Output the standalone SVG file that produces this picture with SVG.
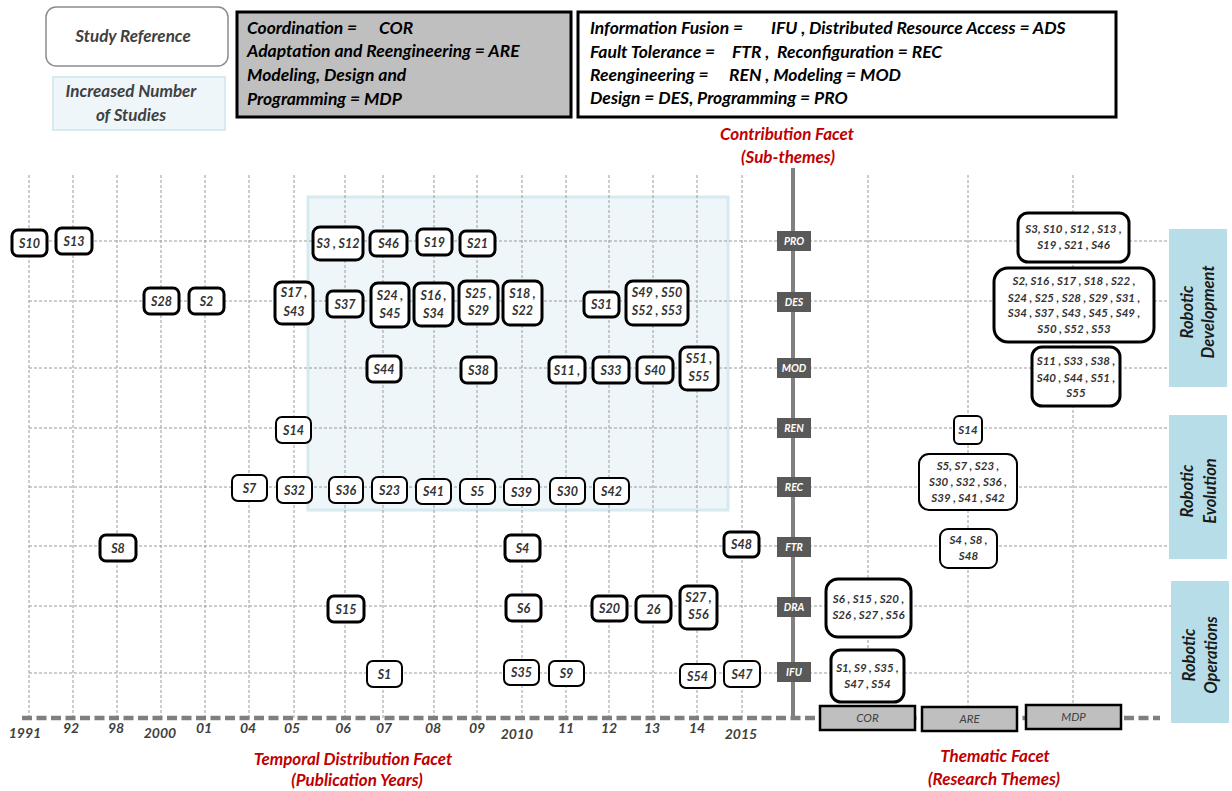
<svg xmlns="http://www.w3.org/2000/svg" width="1232" height="791" viewBox="0 0 1232 791">
<style>
text{font-family:Lato,"Open Sans","Liberation Sans",sans-serif;font-weight:bold;font-style:italic}
.grid{stroke:#9a9a9a;stroke-width:1;stroke-dasharray:3 2;fill:none}
.n rect{fill:#fff;stroke:#000;stroke-width:3}
.t rect{fill:#fff;stroke:#000;stroke-width:2}
.n text,.t text{font-size:12.5px;fill:#333;text-anchor:middle}
.agg text{font-size:11.5px}
.sub rect{fill:#595959}
.sub text{font-size:10.5px;fill:#fff;text-anchor:middle}
.yr{font-size:14px;fill:#404040;text-anchor:middle}
.red{font-size:17px;fill:#c00000;text-anchor:middle}
.leg{font-size:17.5px;fill:#000}
.theme rect{fill:#bfbfbf;stroke:#000;stroke-width:2.5}
.theme text{font-size:11.5px;fill:#404040;text-anchor:middle;font-weight:normal}
.panel rect{fill:#b7dee8}
.panel text{font-size:16.5px;fill:#1a1a1a;text-anchor:middle}
</style>

<!-- legends -->
<g id="legend-study">
<rect x="46" y="7" width="182" height="59" rx="10" fill="#fff" stroke="#8c8c8c" stroke-width="1.5"/>
<text x="133" y="42" font-size="17" fill="#404040" text-anchor="middle">Study Reference</text>
</g>
<g id="legend-increased">
<rect x="53" y="77" width="172" height="53" fill="#eef6fa" stroke="#d6eaf0" stroke-width="2"/>
<text x="131" y="97" font-size="17" fill="#404040" text-anchor="middle">Increased Number</text>
<text x="131" y="121" font-size="17" fill="#404040" text-anchor="middle">of Studies</text>
</g>
<g id="legend-themes">
<rect x="237" y="12" width="334" height="105" fill="#bfbfbf" stroke="#000" stroke-width="3"/>
<text class="leg" x="247" y="34">Coordination = <tspan x="379">COR</tspan></text>
<text class="leg" x="247" y="57">Adaptation and Reengineering = ARE</text>
<text class="leg" x="247" y="81">Modeling, Design and</text>
<text class="leg" x="247" y="105">Programming = MDP</text>
</g>
<g id="legend-subthemes">
<rect x="578" y="12" width="538" height="105" fill="#fff" stroke="#000" stroke-width="3"/>
<text class="leg" x="590" y="34">Information Fusion = <tspan x="771">IFU ,</tspan><tspan x="809">Distributed Resource Access = ADS</tspan></text>
<text class="leg" x="590" y="58">Fault Tolerance = <tspan x="732">FTR ,</tspan><tspan x="777">Reconfiguration = REC</tspan></text>
<text class="leg" x="590" y="81">Reengineering = <tspan x="729">REN , Modeling = MOD</tspan></text>
<text class="leg" x="590" y="104">Design = DES, Programming = PRO</text>
</g>

<!-- highlighted region -->
<rect id="increased-region" x="308" y="197" width="420" height="313" fill="#eef6fa" stroke="#d6eaf0" stroke-width="3"/>

<!-- connectors / grid -->
<g id="connectors">
<g class="grid">
<path d="M29 175V718M73 175V718M117 175V718M161 175V718M205 175V718M249 175V718M294 175V718M345 175V718M383 175V718M434 175V718M477 175V718M522 175V718M566 175V718M609 175V718M653 175V718M697 175V718M742 175V718"/>
<path d="M868 175V706M968 175V706M1073 175V706"/>
<path d="M29 241H1168M29 301H1168M29 368H1168M29 428H1168M29 487H1168M29 546H1168M29 606H1171M29 673H1171"/>
</g>
<path d="M793 168V718" stroke="#808080" stroke-width="4" fill="none"/>
<path d="M22 718H1160" stroke="#7f7f7f" stroke-width="4.5" stroke-dasharray="10 4.5" fill="none"/>
</g>

<!-- sub-theme labels -->
<g id="sub-PRO" class="sub"><rect x="777" y="231" width="34" height="20"/><text x="794" y="245">PRO</text></g>
<g id="sub-DES" class="sub"><rect x="777" y="292" width="34" height="20"/><text x="794" y="306">DES</text></g>
<g id="sub-MOD" class="sub"><rect x="777" y="358" width="34" height="20"/><text x="794" y="372">MOD</text></g>
<g id="sub-REN" class="sub"><rect x="777" y="418" width="34" height="20"/><text x="794" y="432">REN</text></g>
<g id="sub-REC" class="sub"><rect x="777" y="477" width="34" height="20"/><text x="794" y="491">REC</text></g>
<g id="sub-FTR" class="sub"><rect x="777" y="537" width="34" height="20"/><text x="794" y="551">FTR</text></g>
<g id="sub-DRA" class="sub"><rect x="777" y="597" width="34" height="20"/><text x="794" y="611">DRA</text></g>
<g id="sub-IFU" class="sub"><rect x="777" y="662" width="34" height="20"/><text x="794" y="676">IFU</text></g>

<!-- PRO row -->
<g id="n-S10" class="n"><rect x="12" y="230" width="35" height="26" rx="6"/><text x="29.5" y="247.5">S10</text></g>
<g id="n-S13" class="n"><rect x="56" y="228" width="36" height="26" rx="6"/><text x="74" y="245.5">S13</text></g>
<g id="n-S3-S12" class="n"><rect x="313" y="227" width="50" height="33" rx="7"/><text x="338" y="248">S3 , S12</text></g>
<g id="n-S46" class="n"><rect x="370" y="231" width="37" height="25" rx="6"/><text x="388.5" y="248">S46</text></g>
<g id="n-S19" class="n"><rect x="417" y="229" width="35" height="26" rx="6"/><text x="434.5" y="246.5">S19</text></g>
<g id="n-S21" class="n"><rect x="460" y="231" width="35" height="25" rx="6"/><text x="477.5" y="248">S21</text></g>

<!-- DES row -->
<g id="n-S28" class="n"><rect x="144" y="288" width="35" height="26" rx="6"/><text x="161.5" y="305.5">S28</text></g>
<g id="n-S2" class="n"><rect x="189" y="288" width="35" height="26" rx="6"/><text x="206.5" y="305.5">S2</text></g>
<g id="n-S17-S43" class="n"><rect x="275" y="282" width="38" height="42" rx="7"/><text x="294" y="297">S17 ,</text><text x="294" y="316">S43</text></g>
<g id="n-S37" class="n"><rect x="327" y="291" width="36" height="26" rx="6"/><text x="345" y="308.5">S37</text></g>
<g id="n-S24-S45" class="n"><rect x="371" y="283" width="38" height="44" rx="7"/><text x="390" y="300">S24 ,</text><text x="390" y="318">S45</text></g>
<g id="n-S16-S34" class="n"><rect x="414" y="283" width="39" height="43" rx="7"/><text x="433.5" y="300">S16 ,</text><text x="433.5" y="318">S34</text></g>
<g id="n-S25-S29" class="n"><rect x="459" y="281" width="39" height="43" rx="7"/><text x="478.5" y="298">S25 ,</text><text x="478.5" y="315">S29</text></g>
<g id="n-S18-S22" class="n"><rect x="503" y="281" width="39" height="44" rx="7"/><text x="522.5" y="298">S18 ,</text><text x="522.5" y="315">S22</text></g>
<g id="n-S31" class="n"><rect x="584" y="292" width="35" height="25" rx="6"/><text x="601.5" y="309">S31</text></g>
<g id="n-S49-S53" class="n"><rect x="626" y="281" width="62" height="44" rx="7"/><text x="657" y="297">S49 , S50</text><text x="657" y="315">S52 , S53</text></g>

<!-- MOD row -->
<g id="n-S44" class="n"><rect x="367" y="356" width="34" height="26" rx="6"/><text x="384" y="373.5">S44</text></g>
<g id="n-S38" class="n"><rect x="461" y="357" width="35" height="26" rx="6"/><text x="478.5" y="374.5">S38</text></g>
<g id="n-S11" class="n"><rect x="549" y="357" width="36" height="26" rx="6"/><text x="567" y="374.5">S11 ,</text></g>
<g id="n-S33" class="n"><rect x="593" y="357" width="36" height="26" rx="6"/><text x="611" y="374.5">S33</text></g>
<g id="n-S40" class="n"><rect x="637" y="357" width="36" height="26" rx="6"/><text x="655" y="374.5">S40</text></g>
<g id="n-S51-S55" class="n"><rect x="680" y="347" width="38" height="43" rx="7"/><text x="699" y="363">S51 ,</text><text x="699" y="381">S55</text></g>

<!-- REN row -->
<g id="n-S14" class="t"><rect x="276" y="417" width="35" height="26" rx="6"/><text x="293.5" y="434.5">S14</text></g>

<!-- REC row -->
<g id="n-S7" class="t"><rect x="232" y="475" width="35" height="26" rx="6"/><text x="249.5" y="492.5">S7</text></g>
<g id="n-S32" class="t"><rect x="277" y="477" width="35" height="26" rx="6"/><text x="294.5" y="494.5">S32</text></g>
<g id="n-S36" class="t"><rect x="329" y="477" width="34" height="26" rx="6"/><text x="346" y="494.5">S36</text></g>
<g id="n-S23" class="t"><rect x="372" y="477" width="35" height="26" rx="6"/><text x="389.5" y="494.5">S23</text></g>
<g id="n-S41" class="t"><rect x="416" y="479" width="35" height="25" rx="6"/><text x="433.5" y="496">S41</text></g>
<g id="n-S5" class="t"><rect x="460" y="479" width="35" height="25" rx="6"/><text x="477.5" y="496">S5</text></g>
<g id="n-S39" class="t"><rect x="504" y="479" width="35" height="26" rx="6"/><text x="521.5" y="496.5">S39</text></g>
<g id="n-S30" class="t"><rect x="550" y="478" width="35" height="26" rx="6"/><text x="567.5" y="495.5">S30</text></g>
<g id="n-S42" class="t"><rect x="594" y="478" width="35" height="26" rx="6"/><text x="611.5" y="495.5">S42</text></g>

<!-- FTR row -->
<g id="n-S8" class="n"><rect x="100" y="535" width="36" height="26" rx="6"/><text x="118" y="552.5">S8</text></g>
<g id="n-S4" class="n"><rect x="505" y="535" width="35" height="26" rx="6"/><text x="522.5" y="552.5">S4</text></g>
<g id="n-S48" class="n"><rect x="724" y="532" width="35" height="25" rx="6"/><text x="741.5" y="549">S48</text></g>

<!-- DRA row -->
<g id="n-S15" class="n"><rect x="328" y="596" width="36" height="26" rx="6"/><text x="346" y="613.5">S15</text></g>
<g id="n-S6" class="n"><rect x="506" y="595" width="35" height="26" rx="6"/><text x="523.5" y="612.5">S6</text></g>
<g id="n-S20" class="n"><rect x="592" y="596" width="35" height="25" rx="6"/><text x="609.5" y="613">S20</text></g>
<g id="n-26" class="n"><rect x="636" y="596" width="35" height="26" rx="6"/><text x="653.5" y="613.5">26</text></g>
<g id="n-S27-S56" class="n"><rect x="680" y="586" width="37" height="43" rx="7"/><text x="698.5" y="602">S27 ,</text><text x="698.5" y="619">S56</text></g>

<!-- IFU row -->
<g id="n-S1" class="t"><rect x="367" y="661" width="35" height="26" rx="6"/><text x="384.5" y="678.5">S1</text></g>
<g id="n-S35" class="t"><rect x="504" y="660" width="35" height="25" rx="6"/><text x="521.5" y="677">S35</text></g>
<g id="n-S9" class="t"><rect x="549" y="661" width="35" height="25" rx="6"/><text x="566.5" y="678">S9</text></g>
<g id="n-S54" class="t"><rect x="680" y="664" width="35" height="24" rx="6"/><text x="697.5" y="680.5">S54</text></g>
<g id="n-S47" class="t"><rect x="724" y="661" width="36" height="26" rx="6"/><text x="742" y="678.5">S47</text></g>

<!-- aggregated nodes -->
<g id="agg-PRO" class="n agg"><rect x="1018" y="213" width="111" height="49" rx="10"/><text x="1073.5" y="233">S3, S10 , S12 , S13 ,</text><text x="1073.5" y="249">S19 , S21 , S46</text></g>
<g id="agg-DES" class="n agg"><rect x="994" y="268" width="160" height="74" rx="14"/><text x="1074" y="285">S2, S16 , S17 , S18 , S22 ,</text><text x="1074" y="302">S24 , S25 , S28 , S29 , S31 ,</text><text x="1074" y="317">S34 , S37 , S43 , S45 , S49 ,</text><text x="1074" y="333">S50 , S52 , S53</text></g>
<g id="agg-MOD" class="n agg"><rect x="1032" y="347" width="88" height="59" rx="10"/><text x="1076" y="365">S11 , S33 , S38 ,</text><text x="1076" y="382">S40 , S44 , S51 ,</text><text x="1076" y="397">S55</text></g>
<g id="agg-REN" class="t agg"><rect x="954" y="416" width="28" height="28" rx="5"/><text x="968" y="434">S14</text></g>
<g id="agg-REC" class="t agg"><rect x="919" y="454" width="98" height="56" rx="10"/><text x="968" y="470">S5, S7 , S23 ,</text><text x="968" y="486">S30 , S32 , S36 ,</text><text x="968" y="502">S39 , S41 , S42</text></g>
<g id="agg-FTR" class="t agg"><rect x="940" y="529" width="57" height="39" rx="8"/><text x="968.5" y="544">S4 , S8 ,</text><text x="968.5" y="560">S48</text></g>
<g id="agg-DRA" class="n agg"><rect x="826" y="579" width="85" height="58" rx="12"/><text x="868.5" y="603">S6 , S15 , S20 ,</text><text x="868.5" y="619">S26 , S27 , S56</text></g>
<g id="agg-IFU" class="n agg"><rect x="831" y="650" width="73" height="52" rx="10"/><text x="867.5" y="672">S1,  S9 , S35 ,</text><text x="867.5" y="688">S47 , S54</text></g>

<!-- themes -->
<g id="theme-COR" class="theme"><rect x="820" y="706" width="95" height="24"/><text x="867.5" y="722">COR</text></g>
<g id="theme-ARE" class="theme"><rect x="922" y="707" width="95" height="24"/><text x="969.5" y="723">ARE</text></g>
<g id="theme-MDP" class="theme"><rect x="1026" y="705" width="95" height="24"/><text x="1073.5" y="721">MDP</text></g>

<!-- panels -->
<g id="panel-development" class="panel"><rect x="1169" y="229" width="58" height="158"/><text transform="translate(1193,312) rotate(-90)">Robotic</text><text transform="translate(1214,312) rotate(-90)">Development</text></g>
<g id="panel-evolution" class="panel"><rect x="1169" y="415" width="58" height="144"/><text transform="translate(1193,491) rotate(-90)">Robotic</text><text transform="translate(1216,491) rotate(-90)">Evolution</text></g>
<g id="panel-operations" class="panel"><rect x="1171" y="581" width="58" height="142"/><text transform="translate(1195,655) rotate(-90)">Robotic</text><text transform="translate(1217,655) rotate(-90)">Operations</text></g>

<!-- years -->
<g id="years" class="yr">
<text x="25" y="738">1991</text><text x="71" y="733">92</text><text x="116" y="733">98</text><text x="160" y="738">2000</text>
<text x="204" y="733">01</text><text x="248" y="733">04</text><text x="292" y="733">05</text><text x="343" y="733">06</text>
<text x="384" y="733">07</text><text x="433" y="733">08</text><text x="477" y="733">09</text><text x="517" y="739">2010</text>
<text x="566" y="733">11</text><text x="609" y="733">12</text><text x="652" y="733">13</text><text x="697" y="733">14</text>
<text x="741" y="739">2015</text>
</g>

<!-- facet labels -->
<g id="label-contribution" class="red"><text x="787" y="140">Contribution Facet</text><text x="788" y="163">(Sub-themes)</text></g>
<g id="label-temporal" class="red"><text x="353" y="765">Temporal Distribution Facet</text><text x="357" y="786">(Publication Years)</text></g>
<g id="label-thematic" class="red"><text x="995" y="762">Thematic Facet</text><text x="994" y="785">(Research Themes)</text></g>
</svg>
